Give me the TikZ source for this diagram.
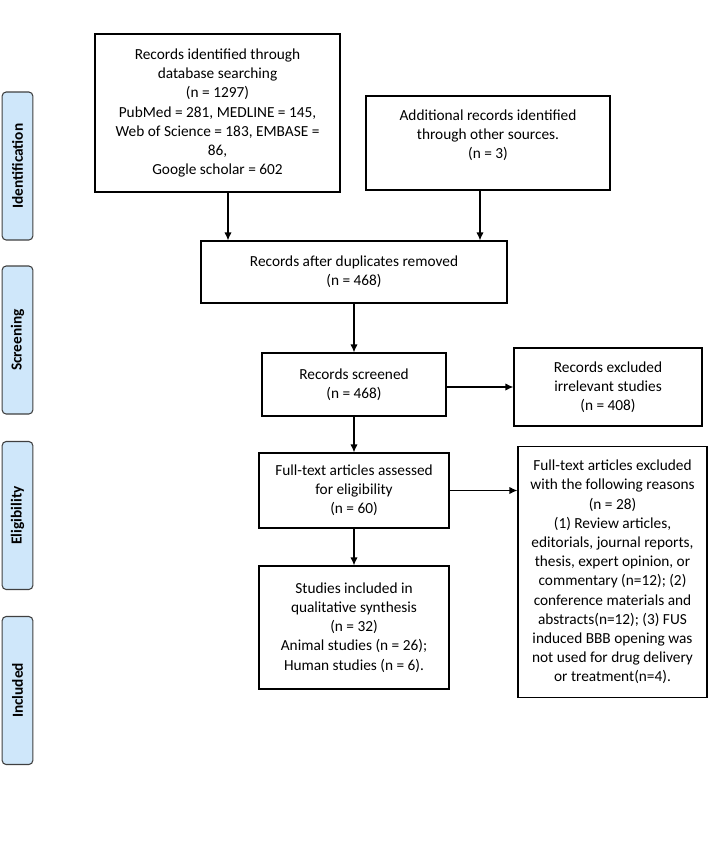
\documentclass[tikz,border=0pt]{standalone}
\usepackage{fontspec}
\setmainfont{Carlito}
\usepackage{xcolor}
\definecolor{stage-blue}{RGB}{207,231,250}
\usetikzlibrary{calc,arrows.meta}
\tikzset{
  box/.style={
    draw=black,
    line width=0.9pt,
    align=center,
    inner sep=0pt,
    font=\fontsize{11.5}{14.4}\selectfont
  },
  stage/.style={
    draw=black!75,
    fill=stage-blue,
    line width=0.8pt,
    rounded corners=3pt,
    rotate=90,
    minimum width=111pt,
    minimum height=23pt,
    font=\bfseries\fontsize{11.5}{13}\selectfont
  },
  flow/.style={
    line width=0.9pt,
    -{Latex[length=6pt,width=5.5pt]}
  },
}

\begin{document}
\begin{tikzpicture}[x=0.75pt,y=-0.75pt]

  \def\u{0.75pt}
  \useasboundingbox (0,0) rectangle (708,843);

  % stages
  \node[stage] (s-ident) at (17.5,166) {Identification};
  \node[stage] (s-screen) at (17.5,340) {Screening};
  \node[stage] (s-elig) at (17.5,515.5) {Eligibility};
  \node[stage] (s-incl) at (17.5,690.5) {Included};

  % boxes
  \node[box, minimum width=245*\u, minimum height=158*\u] (ident) at (217.5,113)
    {Records identified through\\database searching\\(n = 1297)\\PubMed = 281, MEDLINE = 145,\\Web of Science = 183, EMBASE =\\86,\\Google scholar = 602};
  \node[box, minimum width=244*\u, minimum height=94*\u, text depth=13pt] (other) at (488,143)
    {Additional records identified\\through other sources.\\(n = 3)};
  \node[box, minimum width=306*\u, minimum height=62*\u] (dup) at (354,272)
    {Records after duplicates removed\\(n = 468)};
  \node[box, minimum width=184*\u, minimum height=63*\u] (screen) at (354,384.5)
    {Records screened\\(n = 468)};
  \node[box, minimum width=188*\u, minimum height=78*\u] (excl) at (608,387)
    {Records excluded\\irrelevant studies\\(n = 408)};
  \node[box, minimum width=190*\u, minimum height=75*\u] (full) at (354,490.5)
    {Full-text articles assessed\\for eligibility\\(n = 60)};
  \node[box, minimum width=190*\u, minimum height=123*\u] (incl) at (354,627.5)
    {Studies included in\\qualitative synthesis\\(n = 32)\\Animal studies (n = 26);\\Human studies (n = 6).};
  \node[box, minimum width=189*\u, minimum height=251*\u] (fexcl) at (612.5,572)
    {Full-text articles excluded\\with the following reasons\\(n = 28)\\(1) Review articles,\\editorials, journal reports,\\thesis, expert opinion, or\\commentary (n=12); (2)\\conference materials and\\abstracts(n=12); (3) FUS\\induced BBB opening was\\not used for drug delivery\\or treatment(n=4).};

  % arrows
  \draw[flow] ([xshift=10.5*\u]ident.south) -- ([xshift=10.5*\u]ident.south |- dup.north);
  \draw[flow] ([xshift=-8*\u]other.south) -- ([xshift=-8*\u]other.south |- dup.north);
  \draw[flow] (dup.south) -- (dup.south |- screen.north);
  \draw[flow] ([yshift=-2.5*\u]screen.east) -- ([yshift=-2.5*\u]screen.east -| excl.west);
  \draw[flow] (screen.south) -- (screen.south |- full.north);
  \draw[flow] (full.east) -- (full.east -| fexcl.west);
  \draw[flow] (full.south) -- (full.south |- incl.north);

\end{tikzpicture}
\end{document}
